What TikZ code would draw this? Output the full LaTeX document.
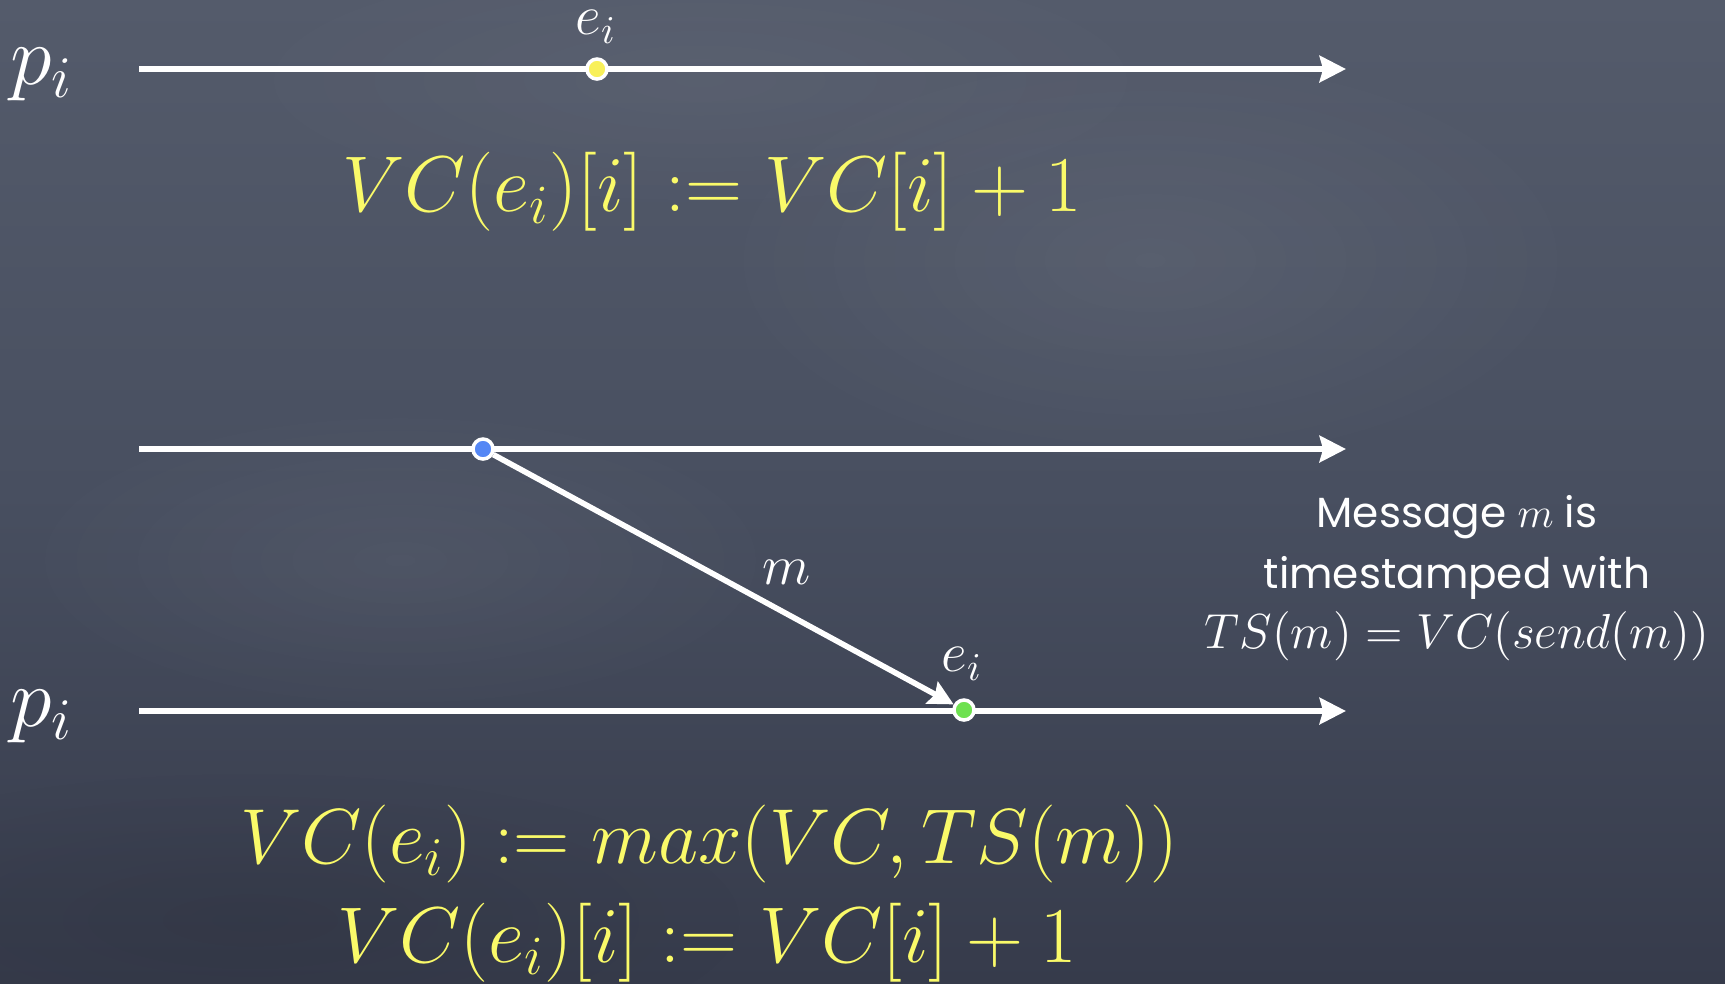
\RequirePackage{fix-cm}
\documentclass[tikz,border=0pt]{standalone}
\usepackage{fontspec}
\newfontfamily\chalk{Poppins}
\usetikzlibrary{arrows.meta,fadings}
\tikzfading[name=softspot, inner color=transparent!0, outer color=transparent!100]
\definecolor{bgtop}{RGB}{84,91,107}
\definecolor{bgmid}{RGB}{72,79,96}
\definecolor{bgbot}{RGB}{54,59,75}
\definecolor{chalkyellow}{RGB}{250,250,105}
\definecolor{dotyellow}{RGB}{248,240,90}
\definecolor{dotblue}{RGB}{85,135,245}
\definecolor{dotgreen}{RGB}{110,225,80}
\begin{document}
\begin{tikzpicture}[x=1cm,y=1cm,
 timeline/.style={white, line width=1.6pt, -{Stealth[length=7.5pt,width=7.5pt,inset=1pt]}},
 msgarrow/.style={white, line width=1.6pt, -{Stealth[length=7pt,width=7pt,inset=1pt]}},
 event/.style={circle, draw=white, line width=1pt, minimum size=0.2cm, inner sep=0pt},
 proc/.style={white, font=\fontsize{24}{28}\selectfont},
 lbl/.style={white, inner sep=0pt, font=\fontsize{16}{19}\selectfont},
 formula/.style={chalkyellow, font=\fontsize{22.5}{27}\selectfont},
 note/.style={white, font=\chalk\fontsize{12}{15}\selectfont},
 notemath/.style={white, font=\fontsize{14}{17}\selectfont},
 smudge/.style={white, path fading=softspot},
]
\useasboundingbox (0,0) rectangle (17.25,-9.83);
\shade[top color=bgtop, bottom color=bgbot, middle color=bgmid] (0,0) rectangle (17.25,-9.83);
\begin{scope}
\clip (0,0) rectangle (17.25,-9.83);
\fill[smudge, opacity=0.06] (11.5,-2.6) ellipse (4.5 and 2.2);
\fill[smudge, opacity=0.05] (4.0,-5.6) ellipse (4.0 and 1.6);
\fill[smudge, opacity=0.04] (7.0,-0.8) ellipse (5.0 and 1.4);
\fill[black, path fading=softspot, opacity=0.08] (2.5,-9.2) ellipse (5 and 1.5);
\end{scope}

% timelines
\coordinate (s1) at (1.39,-0.69);
\coordinate (t1) at (13.46,-0.69);
\coordinate (s2) at (1.39,-4.49);
\coordinate (t2) at (13.46,-4.49);
\coordinate (s3) at (1.39,-7.11);
\coordinate (t3) at (13.46,-7.11);
\draw[timeline] (s1) -- (t1);
\draw[timeline] (s2) -- (t2);
\draw[timeline] (s3) -- (t3);

% events
\node[event, fill=dotyellow] (ev1) at (5.97,-0.69) {};
\node[event, fill=dotblue] (snd) at (4.83,-4.49) {};
\node[event, fill=dotgreen] (rcv) at (9.64,-7.10) {};
\draw[msgarrow] (snd) -- (rcv);

% labels
\node[proc] (p1) at (0.42,-0.75) {$p_i$};
\node[proc] (p2) at (0.42,-7.17) {$p_i$};
\node[lbl] (e1) at (5.96,-0.27) {$e_i$};
\node[lbl] (e2) at (9.62,-6.64) {$e_i$};
\node[lbl] (m) at (7.87,-5.72) {$m$};

% formulas
\node[formula] (f1) at (7.12,-1.92) {$VC(e_i)[i] := VC[i] + 1$};
\node[formula, font=\fontsize{22.2}{27}\selectfont] (f2) at (7.09,-8.44) {$VC(e_i) := max(VC,TS(m))$};
\node[formula] (f3) at (7.07,-9.43) {$VC(e_i)[i] := VC[i] + 1$};

% note
\node[note] (n1) at (14.57,-5.17) {Message $m$ is};
\node[note] (n2) at (14.57,-5.78) {timestamped with};
\node[notemath] (n3) at (14.57,-6.36) {$TS(m) = VC(send(m))$};
\end{tikzpicture}
\end{document}
